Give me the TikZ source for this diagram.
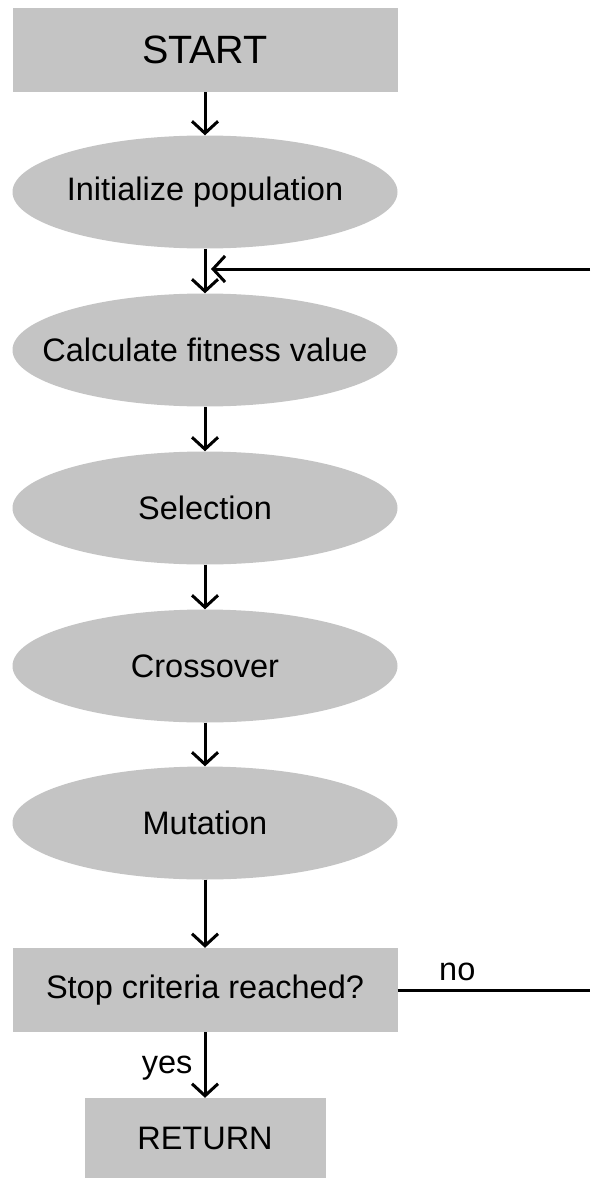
\documentclass[tikz,border=0pt]{standalone}
\usepackage{fontspec}
\setmainfont{Liberation Sans}
\usepackage{tikz}
\usetikzlibrary{shapes.geometric,arrows.meta}
\definecolor{boxgray}{RGB}{196,196,196}

\begin{document}
\begin{tikzpicture}[x=1pt,y=-1pt,
    box/.style={rectangle,fill=boxgray,minimum width=385pt,minimum height=84pt,inner sep=0pt},
    bubble/.style={ellipse,fill=boxgray,minimum width=385pt,minimum height=113pt,inner xsep=-40pt,inner ysep=0pt},
    arr/.style={-{Straight Barb[length=12pt,width=26pt]},line width=3pt},
    font=\fontsize{32.5}{38}\selectfont]
              \useasboundingbox (0,0) rectangle (590,1180);
              \node[box](start)at(205,50){\fontsize{39.5}{46}\selectfont START};
              \node[bubble](init)at(205,192){Initialize population};
              \node[bubble](calc)at(205,350){Calculate fitness value};
              \node[bubble](sel)at(205,508){Selection};
              \node[bubble](cross)at(205,666){Crossover};
              \node[bubble](mut)at(205,823){Mutation};
              \node[box](stop)at(205,990){Stop criteria reached?};
              \node[box,minimum width=241pt,minimum height=80pt](ret)at(205,1138){RETURN};
              \coordinate(loopin)at(211,269);
              \coordinate(loopout)at(590,269);
              \coordinate(noout)at(590,990);
              \draw[arr](start)--(init);
              \draw[arr](init)--(calc);
              \draw[arr](calc)--(sel);
              \draw[arr](sel)--(cross);
              \draw[arr](cross)--(mut);
              \draw[arr](mut)--(stop);
              \draw[arr](stop)--node[pos=0.55,left=9pt,inner sep=2pt](yes){yes}(ret);
              \draw[line width=3pt](stop.east)--node[pos=0.31,above=6pt,inner sep=2pt](no){no}(noout);
              \draw[arr](loopout)--(loopin);
            \end{tikzpicture}
\end{document}
